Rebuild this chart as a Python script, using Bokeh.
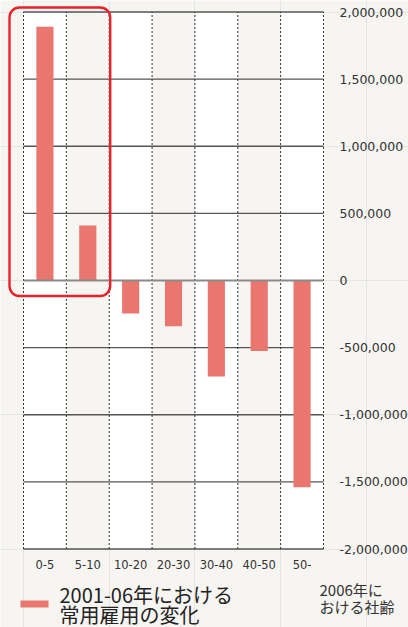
import numpy as np
from bokeh.plotting import figure
from bokeh.models import Range1d, BoxAnnotation
from bokeh.core.properties import value
from bokeh.embed import file_html
from bokeh.resources import INLINE

# ---------------- data ----------------
categories = ["0-5", "5-10", "10-20", "20-30", "30-40", "40-50", "50-"]
employment_change = [1890000, 410000, -245000, -340000, -715000, -525000, -1540000]
y_ticks = [2000000, 1500000, 1000000, 500000, 0, -500000, -1000000, -1500000, -2000000]
y_tick_labels = ["2,000,000", "1,500,000", "1,000,000", "500,000", "0",
                 "-500,000", "-1,000,000", "-1,500,000", "-2,000,000"]
highlight = ["0-5", "5-10"]
legend_label = "2001-06年における\n常用雇用の変化"
axis_note = "2006年に\nおける社齢"

# ---------------- styles / layout ----------------
BG = "#f6f5f1"
BAR = "#e9776f"
RED = "#e8222b"
TXT = "#333333"
JP = "Noto Sans CJK JP"
NUM = "DejaVu Sans"

W, H = 408, 627
X0 = 23.0                 # px of first category boundary
KX = 300.0 / len(categories)   # px per category
Y0 = 280.0                # px of value 0
KY = 537.0 / 4000000.0    # px per unit value


def dx(px):
    return (px - X0) / KX


def dy(py):
    return (Y0 - py) / KY


p = figure(width=W, height=H,
           x_range=Range1d(-X0 / KX, (W - X0) / KX),
           y_range=Range1d(-(H - Y0) / KY, Y0 / KY),
           x_axis_location=None, y_axis_location=None,
           toolbar_location=None, output_backend="svg", min_border=0)
p.background_fill_color = BG
p.border_fill_color = BG
p.outline_line_color = None

n = len(categories)
idx = np.arange(n)
ymin, ymax = min(y_ticks), max(y_ticks)

# alternating white stripes
even = idx[idx % 2 == 0]
p.quad(left=even, right=even + 1, bottom=ymin, top=ymax,
       fill_color="white", line_color=None)

# horizontal grid lines
nonzero = [t for t in y_ticks if t != 0]
p.segment(x0=0, x1=n, y0=nonzero, y1=nonzero, line_color="#555555", line_width=1.3)

# vertical dotted category boundaries
bounds = np.arange(n + 1)
p.segment(x0=bounds, x1=bounds, y0=ymin, y1=ymax,
          line_color="#333333", line_width=1, line_dash="2 2")

# bars
p.vbar(x=idx + 0.5, width=0.4, top=employment_change, bottom=0,
       fill_color=BAR, line_color=None)

# zero line
p.segment(x0=[0], x1=[n], y0=[0], y1=[0], line_color="#8a8a8a", line_width=2)

# highlight box around first categories
lo = categories.index(highlight[0])
hi = categories.index(highlight[-1])
box = BoxAnnotation(left=lo - 14 / KX, right=hi + 1 + 1 / KX,
                    top=ymax + 4.5 / KY, bottom=0 - 15.5 / KY,
                    fill_alpha=0, line_color=RED, line_alpha=1.0, line_width=2.4,
                    border_radius=10)
p.add_layout(box)

# y tick labels (right side)
p.text(x=dx(339), y=y_ticks, text=y_tick_labels,
       text_align="left", text_baseline="middle",
       text_font=value(NUM), text_font_size="12.5px", text_color=TXT)

# category labels
p.text(x=idx + 0.5, y=dy(563.5), text=categories,
       text_align="center", text_baseline="middle",
       text_font=value(NUM), text_font_size="11.5px", text_color=TXT)

# legend
p.rect(x=dx(34), y=dy(603.5), width=28, height=7,
       width_units="screen", height_units="screen",
       fill_color=BAR, line_color=None)
legend_lines = legend_label.split("\n")
p.text(x=[dx(59)] * len(legend_lines), y=[dy(594), dy(613.5)], text=legend_lines,
       text_align="left", text_baseline="middle",
       text_font=value(JP), text_font_size="20px", text_color="#222222")

# axis note
note_lines = axis_note.split("\n")
p.text(x=[dx(319)] * len(note_lines), y=[dy(588.5), dy(605.5)], text=note_lines,
       text_align="left", text_baseline="middle",
       text_font=value(JP), text_font_size="15px", text_color=TXT)

open("out.html", "w").write(file_html(p, INLINE))
